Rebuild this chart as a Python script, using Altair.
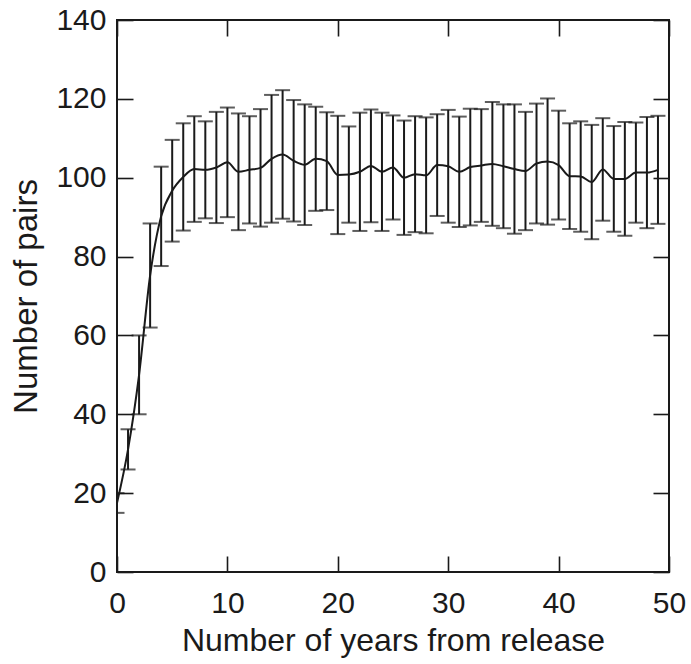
import altair as alt
import pandas as pd

years = list(range(0, 50))
mean_pairs = [17.5, 31.1, 50.0, 75.2, 90.2, 96.7, 100.2, 102.2, 102.0, 102.6,
              103.9, 101.5, 102.0, 102.5, 104.8, 105.9, 104.3, 103.3, 104.8, 104.2,
              100.7, 100.8, 101.5, 103.0, 101.5, 102.6, 100.0, 100.9, 100.6, 103.2,
              102.9, 101.5, 102.7, 103.1, 103.5, 102.9, 102.2, 101.7, 103.6, 104.1,
              103.2, 100.4, 100.3, 98.9, 102.1, 99.7, 99.7, 101.3, 101.3, 102.0]
err_pairs = [2.5, 5.1, 10.0, 13.2, 12.6, 12.9, 13.6, 13.4, 12.3, 14.1,
             13.9, 14.8, 13.6, 14.9, 16.2, 16.3, 15.4, 15.3, 13.2, 12.4,
             15.0, 12.2, 15.0, 14.3, 15.0, 13.2, 14.5, 14.7, 14.7, 12.9,
             14.3, 14.0, 14.8, 14.3, 15.7, 15.7, 16.4, 15.0, 15.2, 16.0,
             13.8, 13.4, 14.0, 14.5, 13.0, 13.4, 14.4, 12.7, 14.1, 13.7]
x_ticks = [0, 10, 20, 30, 40, 50]
y_ticks = [0, 20, 40, 60, 80, 100, 120, 140]

df = pd.DataFrame({"year": years, "mean": mean_pairs, "err": err_pairs})
df["lo"] = df["mean"] - df["err"]
df["hi"] = df["mean"] + df["err"]

FONT = "Liberation Sans"
INK = "#1a1a1a"
TICK_LEN = 16
LFS = 30

xs = alt.Scale(domain=[0, 50], nice=False, zero=False)
ys = alt.Scale(domain=[0, 140], nice=False, zero=False)

def tick_axis(orient, values):
    return alt.Axis(orient=orient, offset=-TICK_LEN, tickSize=TICK_LEN, ticks=True,
                    tickColor=INK, tickWidth=1.6, labels=False, domain=False,
                    grid=False, title=None, values=values)

base = alt.Chart(df)

bars = base.mark_rule(color=INK, strokeWidth=2, clip=True).encode(
    x=alt.X("year:Q", scale=xs, axis=None),
    y=alt.Y("lo:Q", scale=ys, axis=None),
    y2="hi:Q",
)

cap_top = base.mark_tick(orient="horizontal", size=15, thickness=2, color=INK, clip=True).encode(
    x=alt.X("year:Q", scale=xs, axis=tick_axis("bottom", x_ticks)),
    y=alt.Y("hi:Q", scale=ys, axis=tick_axis("left", y_ticks)),
)
cap_bot = base.mark_tick(orient="horizontal", size=15, thickness=2, color=INK, clip=True).encode(
    x=alt.X("year:Q", scale=xs, axis=tick_axis("top", x_ticks)),
    y=alt.Y("lo:Q", scale=ys, axis=tick_axis("right", y_ticks)),
)

line = base.mark_line(color=INK, strokeWidth=2, interpolate="monotone", clip=True).encode(
    x=alt.X("year:Q", scale=xs,
            axis=alt.Axis(orient="bottom", values=x_ticks, ticks=False, domain=False, grid=False,
                          title="Number of years from release",
                          labelFont=FONT, labelFontSize=LFS, labelColor=INK, labelFlush=False,
                          labelOverlap=False, labelPadding=16,
                          titleFont=FONT, titleFontSize=32, titleColor=INK,
                          titleFontWeight="normal", titlePadding=7)),
    y=alt.Y("mean:Q", scale=ys,
            axis=alt.Axis(orient="left", values=y_ticks, ticks=False, domain=False, grid=False,
                          title="Number of pairs",
                          labelFont=FONT, labelFontSize=LFS, labelColor=INK, labelFlush=False,
                          labelOverlap=False, labelPadding=11,
                          titleFont=FONT, titleFontSize=33, titleColor=INK,
                          titleFontWeight="normal", titlePadding=12)),
)

chart = alt.layer(line, bars, cap_top, cap_bot).resolve_axis(
    x="independent", y="independent"
).properties(
    width=552, height=552,
    padding={"left": 117, "top": 20, "right": 22, "bottom": 92},
    autosize=alt.AutoSizeParams(type="none"),
    background="white",
).configure_view(
    stroke=INK, strokeWidth=2
)

chart.save("out.html", embed_options={"renderer": "svg", "actions": False})
